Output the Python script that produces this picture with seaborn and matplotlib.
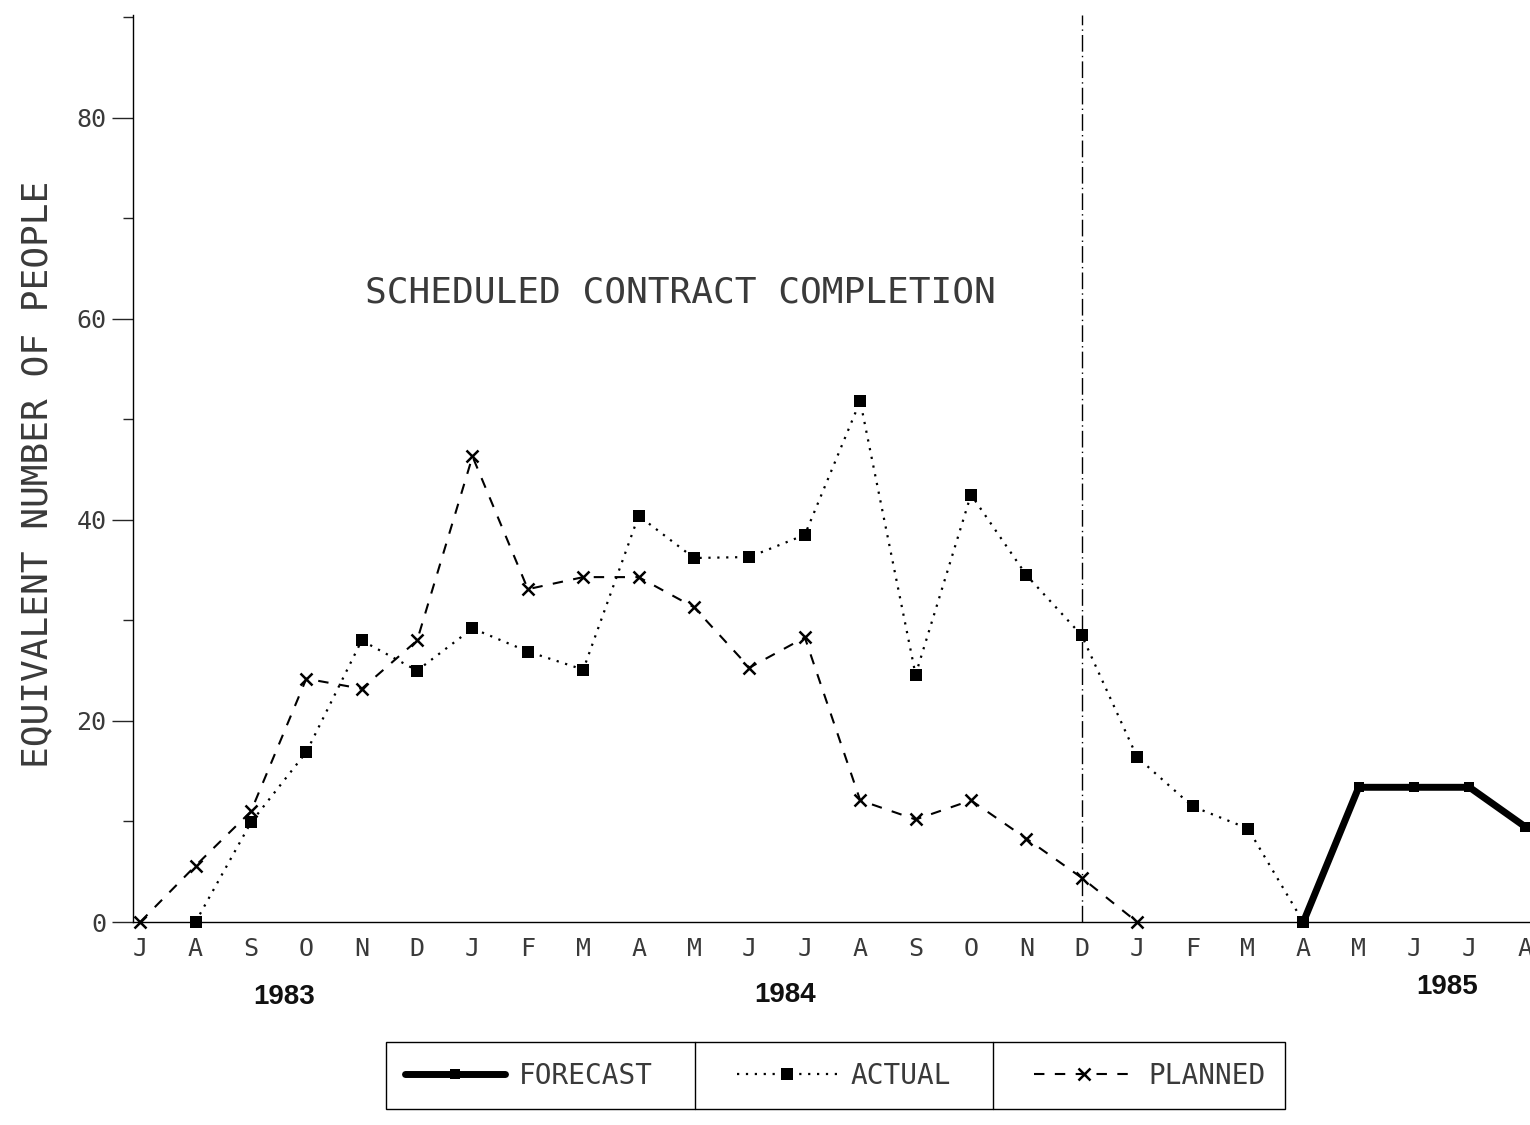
import matplotlib
matplotlib.use("Agg")
import matplotlib.pyplot as plt
from matplotlib.lines import Line2D
import pandas as pd
import seaborn as sns

# month ticks, July 1983 .. August 1985
months = ["J", "A", "S", "O", "N", "D", "J", "F", "M", "A", "M", "J", "J",
          "A", "S", "O", "N", "D", "J", "F", "M", "A", "M", "J", "J", "A"]
years = ["1983", "1984", "1985"]
year_month = [2.6, 11.65, 23.6]

planned_month = list(range(0, 19))
planned = [0, 5.6, 11, 24.2, 23.2, 28, 46.3, 33.1, 34.3, 34.3, 31.3, 25.3,
           28.3, 12.1, 10.2, 12.1, 8.3, 4.4, 0]

actual_month = list(range(1, 22))
actual = [0, 9.9, 16.9, 28, 25, 29.2, 26.9, 25.1, 40.4, 36.2, 36.3, 38.5,
          51.8, 24.6, 42.5, 34.5, 28.5, 16.4, 11.5, 9.3, 0]

forecast_month = [21, 22, 23, 24, 25]
forecast = [0, 13.4, 13.4, 13.4, 9.5]

completion_month = 17
completion_label = "SCHEDULED CONTRACT COMPLETION"

df_planned = pd.DataFrame({"month": planned_month, "people": planned})
df_actual = pd.DataFrame({"month": actual_month, "people": actual})
df_forecast = pd.DataFrame({"month": forecast_month, "people": forecast})

sns.set_style("white")
plt.rcParams["font.family"] = ["DejaVu Sans Mono", "DejaVu Sans"]
mono_color = "#3a3a3a"

fig = plt.figure(figsize=(15.3, 11.25), dpi=100)
ax = fig.add_axes([0.0869, 0.1804, 0.913, 0.8063])

sns.lineplot(data=df_planned, x="month", y="people", ax=ax, color="black",
             linestyle=(0, (5, 5)), lw=1.5, marker="x", markersize=8.5,
             markeredgewidth=1.8, markeredgecolor="black", clip_on=False,
             label="PLANNED")
sns.lineplot(data=df_actual, x="month", y="people", ax=ax, color="black",
             linestyle=(0, (1, 3)), lw=1.6, marker="s", markersize=8,
             markeredgewidth=0, clip_on=False, label="ACTUAL")
sns.lineplot(data=df_forecast, x="month", y="people", ax=ax, color="black",
             linestyle="-", lw=5, marker="s", markersize=7,
             markeredgewidth=0, clip_on=False, label="FORECAST")
if ax.get_legend() is not None:
    ax.get_legend().remove()

ax.axvline(completion_month, color="black", lw=1, linestyle=(0, (12, 3, 1, 3)))
ax.text(9.75, 62.6, completion_label, ha="center", va="center",
        fontsize=26, color=mono_color)

ax.set_xlim(-0.13, 25.09)
ax.set_ylim(0, 90.2)
ax.set_xticks(range(len(months)))
ax.set_xticklabels(months, fontsize=18, color=mono_color)
ax.set_yticks([0, 20, 40, 60, 80])
ax.set_yticklabels(["0", "20", "40", "60", "80"], fontsize=18, color=mono_color)
ax.set_yticks([10, 30, 50, 70, 90], minor=True)
ax.tick_params(axis="x", direction="inout", length=14, width=1, pad=4)
ax.tick_params(axis="y", which="major", direction="out", length=15, width=1, pad=4, left=True)
ax.tick_params(axis="y", which="minor", direction="out", length=7, width=1, left=True)
for s in ["top", "right"]:
    ax.spines[s].set_visible(False)
for s in ["left", "bottom"]:
    ax.spines[s].set_color("black")
    ax.spines[s].set_linewidth(1)

ax.set_xlabel("")
ax.set_ylabel("EQUIVALENT NUMBER OF PEOPLE", fontsize=26, color=mono_color)
ax.yaxis.set_label_coords(-0.056, 0.493)

for yr, m, yy in zip(years, year_month, [-0.083, -0.080, -0.072]):
    ax.text(m, yy, yr, transform=ax.get_xaxis_transform(), ha="center",
            va="center", fontsize=20, fontweight="bold",
            family="Liberation Sans", color="#111")

# legend in the order FORECAST, ACTUAL, PLANNED
handles, labels = ax.get_legend_handles_labels()
order = [labels.index(n) for n in ["FORECAST", "ACTUAL", "PLANNED"]]
leg = fig.legend([handles[i] for i in order], [labels[i] for i in order],
                 ncol=3, loc="center", bbox_to_anchor=(0.546, 0.044),
                 frameon=True, fancybox=False, edgecolor="black",
                 framealpha=1, prop={"family": "DejaVu Sans Mono", "size": 20},
                 handlelength=3.6, handletextpad=0.5, columnspacing=3.0,
                 borderpad=0.7)
leg.get_frame().set_linewidth(1)
for t in leg.get_texts():
    t.set_color(mono_color)

# vertical separators between legend entries
fig.canvas.draw()
inv = fig.transFigure.inverted()
frame = leg.get_window_extent()
texts = leg.get_texts()
fs_px = 20 * fig.dpi / 72
for i in range(2):
    right = texts[i].get_window_extent().x1
    nxt = texts[i + 1].get_window_extent().x0 - (3.6 + 0.5) * fs_px
    xs = (right + nxt) / 2
    (x0, y0) = inv.transform((xs, frame.y0))
    (x1, y1) = inv.transform((xs, frame.y1))
    fig.add_artist(Line2D([x0, x1], [y0, y1], color="black", lw=1, zorder=10))

fig.savefig("out.png", dpi=100)
